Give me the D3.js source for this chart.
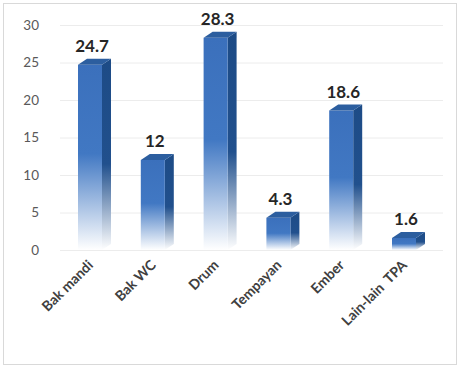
<!DOCTYPE html>
<html>
<head>
<meta charset="utf-8">
<script src="https://cdn.jsdelivr.net/npm/d3@7"></script>
<style>
  html, body { margin: 0; padding: 0; background: #fff; }
  svg { display: block; }
</style>
</head>
<body>
<div id="chart"></div>
<script>
  // Tempat penampungan air (TPA)
  const kategori = ['Bak mandi', 'Bak WC', 'Drum', 'Tempayan', 'Ember', 'Lain-lain  TPA'];
  const nilai = [24.7, 12, 28.3, 4.3, 18.6, 1.6];
  const labelNilai = ['24.7', '12', '28.3', '4.3', '18.6', '1.6'];
  const tickY = [0, 5, 10, 15, 20, 25, 30];

  const W = 460, H = 367;
  const LEBAR_BATANG = 24;
  const DX = 9, DY = 6; // kedalaman 3D

  const svg = d3.select('#chart').append('svg')
    .attr('width', W).attr('height', H);

  // bingkai luar
  svg.append('rect')
    .attr('x', 3.5).attr('y', 3.5)
    .attr('width', 453).attr('height', 361)
    .attr('fill', '#fff').attr('stroke', '#d9d9d9');

  const y = d3.scaleLinear().domain([0, 30]).range([250, 25]);
  const x = d3.scalePoint().domain(kategori).range([90, 404]);

  const defs = svg.append('defs');
  const gDepan = defs.append('linearGradient').attr('id', 'gDepan')
    .attr('x1', 0).attr('y1', 0).attr('x2', 0).attr('y2', 1);
  gDepan.append('stop').attr('offset', '0%').attr('stop-color', '#3b70bc');
  gDepan.append('stop').attr('offset', '48%').attr('stop-color', '#4178c3');
  gDepan.append('stop').attr('offset', '100%').attr('stop-color', '#ffffff');

  const gSamping = defs.append('linearGradient').attr('id', 'gSamping')
    .attr('x1', 0).attr('y1', 0).attr('x2', 0).attr('y2', 1);
  gSamping.append('stop').attr('offset', '0%').attr('stop-color', '#1d4b86');
  gSamping.append('stop').attr('offset', '55%').attr('stop-color', '#21508d');
  gSamping.append('stop').attr('offset', '100%').attr('stop-color', '#ffffff');

  // garis grid
  svg.append('g').selectAll('line').data(tickY).join('line')
    .attr('x1', 60).attr('x2', 443)
    .attr('y1', (d) => y(d) + 0.5).attr('y2', (d) => y(d) + 0.5)
    .attr('stroke', '#ececec').attr('stroke-width', 1);

  // label sumbu Y
  svg.append('g').selectAll('text').data(tickY).join('text')
    .attr('x', 39).attr('y', (d) => y(d))
    .attr('dy', '0.35em')
    .attr('text-anchor', 'end')
    .attr('font-family', 'Lato, "Liberation Sans", sans-serif')
    .attr('font-size', 13.5)
    .attr('fill', '#595959')
    .text((d) => d);

  const batang = svg.append('g').selectAll('g.batang')
    .data(kategori).join('g').attr('class', 'batang');

  batang.each(function (k, i) {
    const g = d3.select(this);
    const x0 = x(k) - LEBAR_BATANG / 2;
    const x1 = x0 + LEBAR_BATANG;
    const yt = y(nilai[i]);
    const yb = y(0);

    // sisi samping
    g.append('path')
      .attr('d', `M${x1},${yt} L${x1 + DX},${yt - DY} L${x1 + DX},${yb - DY} L${x1},${yb} Z`)
      .attr('fill', 'url(#gSamping)');
    // muka depan
    g.append('rect')
      .attr('x', x0).attr('y', yt)
      .attr('width', LEBAR_BATANG).attr('height', yb - yt)
      .attr('fill', 'url(#gDepan)');
    // atap
    g.append('path')
      .attr('d', `M${x0},${yt} L${x0 + DX},${yt - DY} L${x1 + DX},${yt - DY} L${x1},${yt} Z`)
      .attr('fill', '#2c5e9f');

    // label nilai
    g.append('text')
      .attr('x', x(k) + 2).attr('y', yt - 13)
      .attr('text-anchor', 'middle')
      .attr('font-family', 'Lato, "Liberation Sans", sans-serif')
      .attr('font-weight', 'bold')
      .attr('font-size', 17)
      .attr('fill', '#262626')
      .text(labelNilai[i]);
  });

  // label kategori (miring)
  svg.append('g').selectAll('text').data(kategori).join('text')
    .attr('transform', (d) => `translate(${x(d) + 4},${266}) rotate(-45)`)
    .attr('text-anchor', 'end')
    .attr('font-family', 'Lato, "Liberation Sans", sans-serif')
    .attr('font-weight', 'bold')
    .attr('font-size', 14)
    .attr('fill', '#404040')
    .attr('xml:space', 'preserve')
    .style('white-space', 'pre')
    .text((d) => d);
</script>
</body>
</html>
